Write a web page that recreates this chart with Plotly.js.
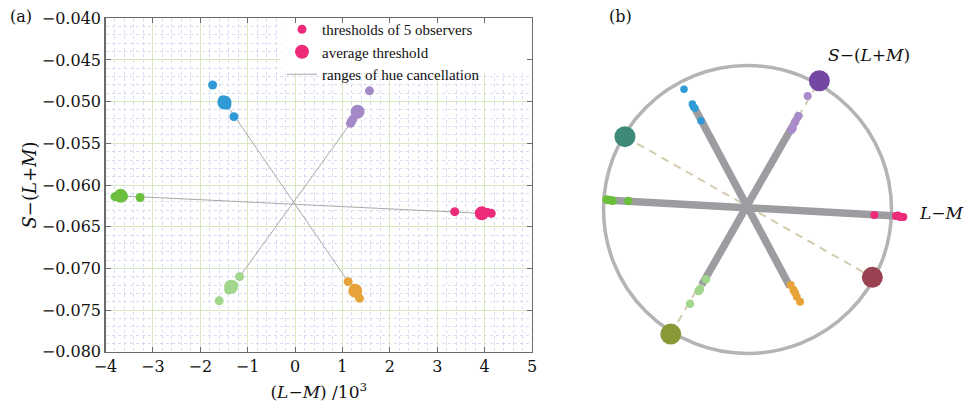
<!DOCTYPE html>
<html>
<head>
<meta charset="utf-8">
<script src="https://cdn.plot.ly/plotly-3.0.1.min.js"></script>
<style>html,body{margin:0;padding:0;background:#fff;}#chart{width:964px;height:402px;}</style>
</head>
<body>
<div id="chart"></div>
<script>
// ---------- Panel (a): thresholds in (L-M)/10^3 vs S-(L+M) ----------
const xTicks = [-4, -3, -2, -1, 0, 1, 2, 3, 4, 5];
const yTicks = [-0.080, -0.075, -0.070, -0.065, -0.060, -0.055, -0.050, -0.045, -0.040];

const blueObsX = [-1.74, -1.53, -1.48, -1.44, -1.29];
const blueObsY = [-0.0480, -0.0498, -0.0501, -0.0504, -0.0518];
const blueAvgX = [-1.49];
const blueAvgY = [-0.0501];

const purpleObsX = [1.57, 1.33, 1.22, 1.19, 1.17];
const purpleObsY = [-0.0487, -0.0511, -0.0521, -0.0524, -0.0526];
const purpleAvgX = [1.32];
const purpleAvgY = [-0.0512];

const greenObsX = [-3.80, -3.72, -3.66, -3.62, -3.27];
const greenObsY = [-0.0614, -0.0612, -0.0613, -0.0614, -0.0615];
const greenAvgX = [-3.68];
const greenAvgY = [-0.0613];

const lightGreenObsX = [-1.17, -1.30, -1.36, -1.40, -1.60];
const lightGreenObsY = [-0.0710, -0.0720, -0.0724, -0.0726, -0.0739];
const lightGreenAvgX = [-1.35];
const lightGreenAvgY = [-0.0722];

const orangeObsX = [1.12, 1.25, 1.29, 1.31, 1.36];
const orangeObsY = [-0.0716, -0.0724, -0.0727, -0.0730, -0.0736];
const orangeAvgX = [1.27];
const orangeAvgY = [-0.0727];

const pinkObsX = [3.37, 3.93, 3.97, 4.06, 4.14];
const pinkObsY = [-0.0632, -0.0633, -0.0635, -0.0633, -0.0634];
const pinkAvgX = [3.94];
const pinkAvgY = [-0.0634];

// ranges of hue cancellation (segment end points)
const rangeBlueOrangeX = [-1.44, 1.12];
const rangeBlueOrangeY = [-0.0504, -0.0716];
const rangePurpleLightGreenX = [1.17, -1.17];
const rangePurpleLightGreenY = [-0.0526, -0.0710];
const rangeGreenPinkX = [-3.68, 3.94];
const rangeGreenPinkY = [-0.0613, -0.0634];

// ---------- Panel (b): normalised hue circle (unit radius) ----------
const bBlueX = [-0.441, -0.383, -0.376, -0.365, -0.323];
const bBlueY = [0.835, 0.733, 0.714, 0.703, 0.617];
const bPurpleX = [0.418, 0.353, 0.330, 0.314, 0.304];
const bPurpleY = [0.788, 0.649, 0.608, 0.564, 0.552];
const bGreenX = [-0.979, -0.967, -0.950, -0.936, -0.828];
const bGreenY = [0.069, 0.066, 0.064, 0.061, 0.059];
const bLightGreenX = [-0.288, -0.330, -0.335, -0.340, -0.399];
const bLightGreenY = [-0.485, -0.552, -0.559, -0.566, -0.654];
const bOrangeX = [0.300, 0.319, 0.330, 0.342, 0.365];
const bOrangeY = [-0.524, -0.559, -0.578, -0.606, -0.640];
const bPinkX = [0.881, 1.031, 1.045, 1.059, 1.082];
const bPinkY = [-0.038, -0.045, -0.042, -0.052, -0.052];

const bUniqueX = [0.499, -0.851, 0.867, -0.533];   // S-(L+M) pole, teal, maroon, olive
const bUniqueY = [0.894, 0.506, -0.471, -0.865];

const bAxisLMX = [-0.990, 1.036];
const bAxisLMY = [0.066, -0.045];
const bAxisBlueOrangeX = [-0.360, 0.295];
const bAxisBlueOrangeY = [0.691, -0.536];
const bAxisPurpleLightGreenX = [0.365, -0.318];
const bAxisPurpleLightGreenY = [0.670, -0.524];
const bDashTealMaroonX = [-0.851, 0.867];
const bDashTealMaroonY = [0.506, -0.471];
const bDashOliveVioletX = [-0.533, 0.499];
const bDashOliveVioletY = [-0.865, 0.894];

const circleR = 1;

// ---------- styles ----------
const C = {
  blue: '#2f9ad6', purple: '#a488c8', green: '#6cbf3c', lightGreen: '#a1d68c',
  orange: '#e6a33a', pink: '#ee2a7b', range: '#a8a8a8'
};
const SMALL = 9, BIG = 14;
const serif = 'DejaVu Serif, serif';

function obs(x, y, color, extra) {
  return Object.assign({x, y, type: 'scatter', mode: 'markers', xaxis: 'x', yaxis: 'y',
    marker: {color, size: SMALL, line: {width: 0}}, showlegend: false, hoverinfo: 'skip'}, extra || {});
}
function avg(x, y, color, extra) {
  return Object.assign({x, y, type: 'scatter', mode: 'markers', xaxis: 'x', yaxis: 'y',
    marker: {color, size: BIG, line: {width: 0}}, showlegend: false, hoverinfo: 'skip'}, extra || {});
}
function rng(x, y, extra) {
  return Object.assign({x, y, type: 'scatter', mode: 'lines', xaxis: 'x', yaxis: 'y',
    line: {color: C.range, width: 1}, showlegend: false, hoverinfo: 'skip'}, extra || {});
}
function bLine(x, y, color, width, dash) {
  return {x, y, type: 'scatter', mode: 'lines', xaxis: 'x2', yaxis: 'y2',
    line: {color, width, dash: dash || 'solid'}, showlegend: false, hoverinfo: 'skip'};
}
function bDots(x, y, color, size) {
  return {x, y, type: 'scatter', mode: 'markers', xaxis: 'x2', yaxis: 'y2',
    marker: {color, size, line: {width: 0}}, showlegend: false, hoverinfo: 'skip'};
}

const traces = [
  rng(rangeBlueOrangeX, rangeBlueOrangeY),
  rng(rangePurpleLightGreenX, rangePurpleLightGreenY),
  rng(rangeGreenPinkX, rangeGreenPinkY, {showlegend: true, name: 'ranges of hue cancellation', legendrank: 3}),
  obs(blueObsX, blueObsY, C.blue), avg(blueAvgX, blueAvgY, C.blue),
  obs(purpleObsX, purpleObsY, C.purple), avg(purpleAvgX, purpleAvgY, C.purple),
  obs(greenObsX, greenObsY, C.green), avg(greenAvgX, greenAvgY, C.green),
  obs(lightGreenObsX, lightGreenObsY, C.lightGreen), avg(lightGreenAvgX, lightGreenAvgY, C.lightGreen),
  obs(orangeObsX, orangeObsY, C.orange), avg(orangeAvgX, orangeAvgY, C.orange),
  obs(pinkObsX, pinkObsY, C.pink, {showlegend: true, name: 'thresholds of 5 observers', legendrank: 1}),
  avg(pinkAvgX, pinkAvgY, C.pink, {showlegend: true, name: 'average threshold', legendrank: 2}),

  // panel (b)
  bLine(bDashTealMaroonX, bDashTealMaroonY, '#d4cbb0', 2, '8px,6px'),
  bLine(bDashOliveVioletX, bDashOliveVioletY, '#d4cbb0', 2, '8px,6px'),
  bLine(bAxisLMX, bAxisLMY, '#9d9da1', 7.5),
  bLine(bAxisBlueOrangeX, bAxisBlueOrangeY, '#9d9da1', 7.5),
  bLine(bAxisPurpleLightGreenX, bAxisPurpleLightGreenY, '#9d9da1', 7.5),
  bDots(bBlueX, bBlueY, C.blue, 7.5),
  bDots(bPurpleX, bPurpleY, '#a98bcc', 8),
  bDots(bGreenX, bGreenY, C.green, 8.5),
  bDots(bLightGreenX, bLightGreenY, C.lightGreen, 8.5),
  bDots(bOrangeX, bOrangeY, C.orange, 8),
  bDots(bPinkX, bPinkY, C.pink, 8),
  {x: bUniqueX, y: bUniqueY, type: 'scatter', mode: 'markers', xaxis: 'x2', yaxis: 'y2',
   marker: {color: ['#7447a2', '#3e8a79', '#994251', '#879a37'], size: 21, line: {width: 0}},
   showlegend: false, hoverinfo: 'skip'}
];

const W = 964, H = 402;
const axA = {
  showline: true, linecolor: '#6a6a6a', linewidth: 1.3, mirror: 'ticks',
  ticks: 'inside', ticklen: 5, tickcolor: '#6a6a6a', tickwidth: 1,
  showgrid: true, gridcolor: '#d8e8c4', gridwidth: 1, zeroline: false,
  tickfont: {family: serif, size: 16, color: '#111'}
};
const minorGrid = {showgrid: true, gridcolor: '#d5ddf5', griddash: 'dot', gridwidth: 1, ticks: ''};

function ann(text, x, y, size) {
  return {text, xref: 'paper', yref: 'paper', x: x / W, y: 1 - y / H, xanchor: 'center', yanchor: 'middle',
    showarrow: false, font: {family: serif, size, color: '#111'}};
}

const layout = {
  width: W, height: H,
  margin: {l: 0, r: 0, t: 0, b: 0, autoexpand: false},
  paper_bgcolor: '#ffffff', plot_bgcolor: '#ffffff',
  showlegend: true,
  xaxis: Object.assign({}, axA, {
    domain: [105.5 / W, 532 / W], range: [-4, 5], tickmode: 'array', tickvals: xTicks,
    minor: Object.assign({dtick: 0.2}, minorGrid),
    title: {text: '(<i>L</i>−<i>M</i>) /10<sup>3</sup>', font: {family: serif, size: 17, color: '#111'}, standoff: 11},
    anchor: 'y'
  }),
  yaxis: Object.assign({}, axA, {
    domain: [1 - 351.7 / H, 1 - 18.3 / H], range: [-0.080, -0.040], tickmode: 'array', tickvals: yTicks,
    tickformat: '.3f',
    minor: Object.assign({dtick: 0.001}, minorGrid),
    title: {text: '<i>S</i>−(<i>L</i>+<i>M</i>)', font: {family: serif, size: 18, color: '#111'}, standoff: 0},
    anchor: 'x'
  }),
  xaxis2: {domain: [590 / W, 1], range: [-1.0938, 1.5035], visible: false, anchor: 'y2', fixedrange: true},
  yaxis2: {domain: [0, 1], range: [-1.3368, 1.4549], visible: false, anchor: 'x2', fixedrange: true},
  legend: {
    x: 282 / W, xanchor: 'left', y: 1 - 13 / H, yanchor: 'top',
    bgcolor: 'rgba(255,255,255,0)', borderwidth: 0,
    font: {family: 'Liberation Serif, serif', size: 15, color: '#111'},
    itemwidth: 30, tracegroupgap: 0
  },
  shapes: [
    {type: 'rect', xref: 'x', yref: 'y', x0: -0.3, x1: 5, y0: -0.0466, y1: -0.040, layer: 'between',
     fillcolor: '#ffffff', line: {width: 0}},
    {type: 'circle', xref: 'x2', yref: 'y2', x0: -circleR, x1: circleR, y0: -circleR, y1: circleR,
     layer: 'below', line: {color: '#b4b4b7', width: 3.5}}
  ],
  annotations: [
    ann('(a)', 21, 16, 16),
    ann('(b)', 620, 17, 16),
    ann('<i>S</i>−(<i>L</i>+<i>M</i>)', 869, 55, 17),
    ann('<i>L</i>−<i>M</i>', 941, 213, 17)
  ]
};

Plotly.newPlot('chart', traces, layout, {displayModeBar: false, staticPlot: true});
</script>
</body>
</html>
